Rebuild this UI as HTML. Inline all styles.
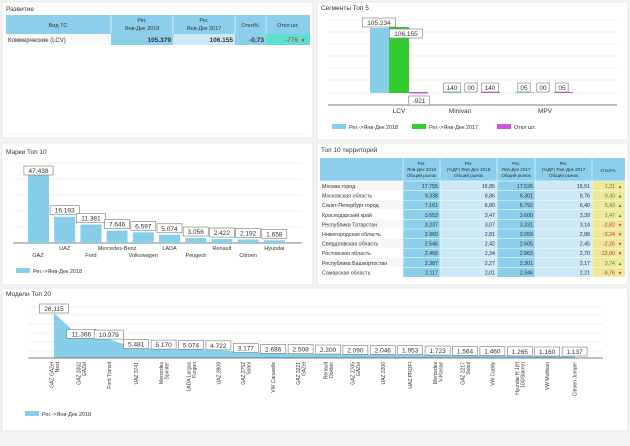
<!DOCTYPE html>
<html><head><meta charset="utf-8"><style>
body{margin:0;background:#f4f4f4;font-family:"Liberation Sans",sans-serif;}
svg{display:block}
text{font-family:"Liberation Sans",sans-serif;}
</style></head><body>
<svg id="s" width="630" height="446" xmlns="http://www.w3.org/2000/svg"></svg>
<script>
let o='';
const R=(x,y,w,h,f,st)=>o+=`<rect x="${x}" y="${y}" width="${w}" height="${h}" fill="${f}" ${st?`stroke="${st}" stroke-width="0.6"`:''}/>`;
const T=(x,y,t,s,a,c,ex)=>o+=`<text x="${x}" y="${y}" font-size="${s}" text-anchor="${a||'start'}" fill="${c||'#333'}" ${ex||''}>${t}</text>`;
const L=(x1,y1,x2,y2,c,w)=>o+=`<line x1="${x1}" y1="${y1}" x2="${x2}" y2="${y2}" stroke="${c}" stroke-width="${w||0.6}"/>`;
const box=(cx,y,t)=>{const w=t.length*4.2+4;R(cx-w/2,y,w,9,'#fff','#777');T(cx,y+7,t,6.5,'middle','#333');};
// panels
[[2,2,311,136],[317,2,311,138],[2,143,311,142],[317,143,311,142],[2,288,626,143]].forEach(p=>R(p[0],p[1],p[2],p[3],'#fff','#ddd'));
// Panel 1
T(6,11,'Развитие',6.5);
R(6,15,304,19,'#8ccfec');R(111,15,62,19,'#8ccfec');
L(111,15,111,45,'#fff');L(173,15,173,45,'#fff');L(235,15,235,45,'#fff');L(266,15,266,45,'#fff');
T(58,27,'Вид ТС',5.5,'middle');T(142,22,'Рег.',5.5,'middle');T(142,30,'Янв-Дек 2018',5.5,'middle');
T(204,22,'Рег.',5.5,'middle');T(204,30,'Янв-Дек 2017',5.5,'middle');T(250,27,'Откл%',5.5,'middle');T(288,27,'Откл шт.',5.5,'middle');
R(6,34,105,11,'#fafafa');R(111,34,62,11,'#8ccfec');R(173,34,62,11,'#cde9f6');R(235,34,31,11,'#8ccfec');R(266,34,44,11,'#5fe0cc');
T(8,42,'Коммерческие (LCV)',6);T(171,42,'105.379',6.5,'end','#333','font-weight="bold"');T(233,42,'106.155',6.5,'end','#333','font-weight="bold"');
T(264,42,'-0,73',6.5,'end','#333','font-weight="bold"');T(298,42,'-776',6.5,'end','#c33');T(303,42,'▼',5,'middle','#c33');
L(8,134,309,134,'#eee');
// Panel 2
T(321,10,'Сегменты Топ 5',6.5);
[20,32,44,56,68,80,93].forEach(y=>L(328,y,617,y,'#e2e2e2'));L(328,105,617,105,'#555',0.7);
R(370,28,19,65,'#87ceeb');R(389,27,20,66,'#33cc33');R(409,92,19,1.5,'#cc55dd');
box(379,18,'105.234');box(406,29,'106.155');box(419,96,'-921');
R(443,92,19,1,'#87ceeb');R(481,92,19,1,'#cc55dd');box(452,83,'140');box(471,83,'00');box(490,83,'140');
R(515,92,19,1,'#87ceeb');R(554,92,19,1,'#cc55dd');box(524,83,'05');box(543,83,'00');box(562,83,'05');
T(399,113,'LCV',6.5,'middle');T(460,113,'Minivan',6.5,'middle');T(545,113,'MPV',6.5,'middle');
R(332,124,14,5,'#87ceeb');T(349,129,'Рег.->Янв-Дек 2018',5.5);R(412,124,14,5,'#33cc33');T(429,129,'Рег.->Янв-Дек 2017',5.5);R(497,124,14,5,'#cc55dd');T(514,129,'Откл шт.',5.5);
// Panel 3
T(6,154,'Марки Топ 10',6.5);
[163,179,195,211,227].forEach(y=>L(13,y,302,y,'#e2e2e2'));L(13,243,302,243,'#555',0.7);
const br=[['GAZ',47438],['UAZ',16193],['Ford',11381],['Mercedes-Benz',7646],['Volkswagen',6597],['LADA',5074],['Peugeot',3056],['Renault',2422],['Citroen',2192],['Hyundai',1658]];
br.forEach((b,i)=>{const x=28+i*26.2,h=b[1]/47438*77;R(x,243-h,21,h,'#87ceeb');
const lab=(b[1]/1000).toFixed(3);box(x+10.5,Math.max(243-h-11,166),lab);
T(x+(i==0?10:10.5),i%2?250:257,b[0],5.5,'middle');});
R(16,268,14,5,'#87ceeb');T(33,273,'Рег.->Янв-Дек 2018',5.5);
// Panel 4
T(321,152,'Топ 10 территорий',6.5);
const cx=[320,403,440,497,535,592,625];
R(320,158,305,23,'#8ccfec');
const hd=[['Рег.','Янв-Дек 2018','Общий рынок'],['Рег.','(%ДР) Янв-Дек 2018','Общий рынок'],['Рег.','Янв-Дек 2017','Общий рынок'],['Рег.','(%ДР) Янв-Дек 2017','Общий рынок']];
hd.forEach((h,i)=>{const m=(cx[i+1]+cx[i+2])/2;h.forEach((t,j)=>T(m,165+j*6,t,4.6,'middle'));});
T(608,172,'Откл%',4.8,'middle');
const rows=[['Москва город','17.755','16,85','17.526','16,51','1,31',1],['Московская область','9.338','8,86','9.301','8,76','0,40',1],['Санкт-Петербург город','7.161','6,80','6.792','6,40','5,43',1],['Краснодарский край','3.653','3,47','3.600','3,39','1,47',1],['Республика Татарстан','3.237','3,07','3.331','3,14','-2,82',0],['Нижегородская область','2.960','2,81','3.059','2,88','-3,24',0],['Свердловская область','2.546','2,42','2.605','2,45','-2,26',0],['Ростовская область','2.468','2,34','2.863','2,70','-13,80',0],['Республика Башкортостан','2.387','2,27','2.301','2,17','3,74',1],['Самарская область','2.117','2,01','2.346','2,21','-9,76',0]];
const cc=['#f7f7f7','#8ccfec','#cde9f6','#8ccfec','#cde9f6','#eee89a'];
rows.forEach((r,k)=>{const y=181+k*9.6;
for(let i=0;i<6;i++){R(cx[i],y,cx[i+1]-cx[i],9.6,i==0&&k%2?'#fff':cc[i]);}
L(320,y,625,y,'#fff',0.5);
T(322,y+7,r[0],5.3);for(let i=1;i<5;i++)T(cx[i+1]-2,y+7,r[i],5.3,'end');
T(cx[6]-10,y+7,r[5],5.3,'end',r[6]?'#5a8a2a':'#c33');T(cx[6]-5,y+7,r[6]?'▲':'▼',4.5,'middle',r[6]?'#3a8a2a':'#c33');});
for(let i=1;i<6;i++)L(cx[i],158,cx[i],277,'#fff',0.5);
// Panel 5
T(6,296,'Модели Топ 20',6.5);
[307,315,324,333,342,351].forEach(y=>L(28,y,603,y,'#e2e2e2'));
const md=[[['GAZ GAZel','Next'],26115],[['GAZ 3302','GAZel'],11366],[['Ford Transit'],10979],[['UAZ 3741'],5481],[['Mercedes','Sprinter'],5170],[['LADA Largus','Furgon'],5074],[['UAZ 3909'],4722],[['GAZ 2752','Sobol'],3177],[['VW Caravelle'],2686],[['GAZ 3221','GAZel'],2508],[['Renault','Dokker'],2300],[['GAZ 2705','GAZel'],2090],[['UAZ 2206'],2046],[['UAZ PROFI'],1953],[['Mercedes','V-Klasse'],1723],[['GAZ 2217','Sobol'],1564],[['VW Caddy'],1460],[['Hyundai H 1(H','100/Starex)'],1265],[['VW Multivan'],1160],[['Citroen Jumper'],1137]];
let pts=`54,358 `;md.forEach((m,i)=>{const x=54+i*27.4,y=358-m[1]/26115*45;pts+=`${x},${y} `;});pts+=`${54+19*27.4},358`;
o+=`<polygon points="${pts}" fill="#87ceeb"/>`;
L(28,358,603,358,'#555',0.7);
md.forEach((m,i)=>{const x=54+i*27.4,y=358-m[1]/26115*45;box(x,Math.min(y-9,i==19?349:347),(m[1]/1000).toFixed(3));
const n=m[0];n.forEach((t,j)=>{const xx=x+(j-(n.length-1)/2)*5.5+2;o+=`<text transform="translate(${xx},362) rotate(-90)" font-size="5" text-anchor="end" fill="#333">${t}</text>`;});});
R(25,411,14,5,'#87ceeb');T(42,416,'Рег.->Янв-Дек 2018',5.5);
document.getElementById('s').innerHTML=o;
</script>
</body></html>
